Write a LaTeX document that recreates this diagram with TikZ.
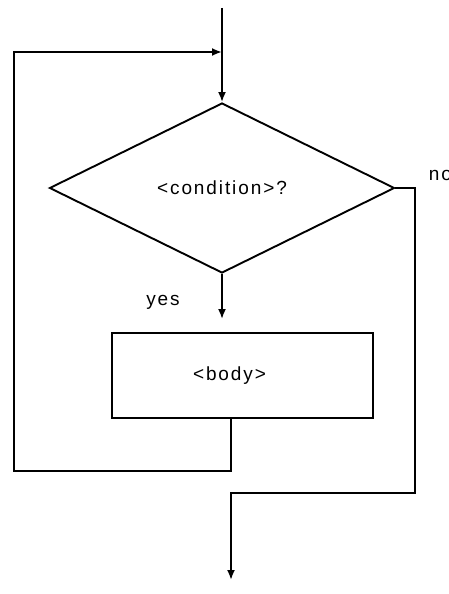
\documentclass[tikz,border=0pt]{standalone}
\usepackage{fontspec}
\newfontfamily\flowfont[LetterSpace=10]{Liberation Sans}
\usetikzlibrary{shapes.geometric}
\usetikzlibrary{arrows.meta}

\begin{document}
\begin{tikzpicture}[x=1pt,y=-1pt,line width=1.9pt,
	font=\flowfont\fontsize{19}{22}\selectfont,
	flow/.style={-{Latex[length=10pt,width=8pt]}},
	decision/.style={draw,diamond,inner sep=0pt,minimum width=345pt,minimum height=170pt},
	process/.style={draw,rectangle,inner sep=0pt,minimum width=261pt,minimum height=85pt}]%[font=\small]
\useasboundingbox (0,0) rectangle (448,594);
\node[decision] (cond) at (222,188) {<condition>?};
\node[process] (body) at (242.5,375.5) {<body>\rule{26pt}{0pt}};
\coordinate (in) at (222,8);
\coordinate (join) at (222,52);
\coordinate (bodyout) at (231,418);
\coordinate (loopL) at (14,471);
\coordinate (noR) at (415,493);
\coordinate (out) at (231,580);
\draw (in) -- (join);
\draw[flow] (join) -- (cond.north);
\draw[flow,shorten >=13pt] (cond.south) -- (cond.south |- body.north);
\draw[flow] (bodyout) |- (loopL) |- (join);
\draw[flow] (cond.east) -| (noR) -| (out);
%\draw (0,0) rectangle (448,594);
\node[anchor=base] (yes) at (163,305) {yes};
\node[anchor=base west,inner sep=0pt] (no) at (428,180) {no};
\end{tikzpicture}
\end{document}
